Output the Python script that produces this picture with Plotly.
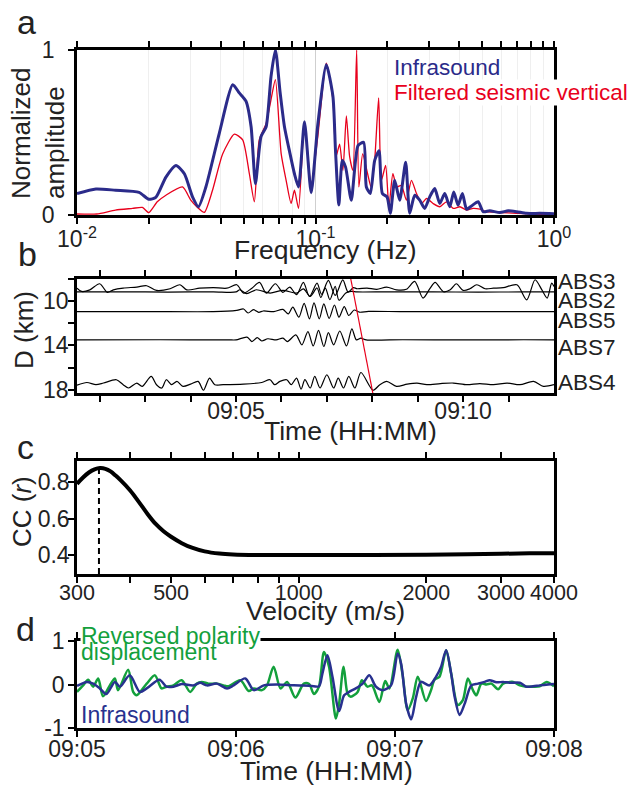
import math
import pandas as pd
import plotly.graph_objects as go

W, H = 627, 785
FONT = "Liberation Sans, Arial, Helvetica, sans-serif"

# ------------------------------------------------------------------ data
# Panel a : normalized spectra
a_freq_infra = [0.0100, 0.0120, 0.0145, 0.0182, 0.0200, 0.0214, 0.0236, 0.0260, 0.0282, 0.0305,
                0.0323, 0.0347, 0.0395, 0.0450, 0.0479, 0.0511, 0.0537, 0.0560, 0.0591, 0.0621,
                0.0651, 0.0679, 0.0711, 0.0741, 0.0777, 0.0816, 0.0849, 0.0899, 0.0959, 0.1023,
                0.1110, 0.1183, 0.1213, 0.1253, 0.1295, 0.1337, 0.1413, 0.1507, 0.1592, 0.1634,
                0.1698, 0.1770, 0.1846, 0.1907, 0.1995, 0.2060, 0.2148, 0.2254, 0.2388, 0.2483,
                0.2606, 0.2735, 0.2871, 0.3013, 0.3162, 0.3319, 0.3483, 0.3656, 0.3800, 0.3960,
                0.4130, 0.4300, 0.4510, 0.4810, 0.5050, 0.5380, 0.5930, 0.6430, 0.6970, 0.7670,
                0.8730, 1.0000]
a_amp_infra = [0.13, 0.158, 0.15, 0.137, 0.095, 0.107, 0.23, 0.30, 0.25, 0.11,
               0.05, 0.17, 0.495, 0.79, 0.74, 0.69, 0.535, 0.19, 0.475, 0.535,
               0.84, 1.0, 0.74, 0.535, 0.39, 0.25, 0.17, 0.565, 0.135, 0.55,
               0.91, 0.72, 0.39, 0.06, 0.33, 0.29, 0.09, 0.42, 0.44, 0.17,
               0.13, 0.33, 0.39, 0.13, 0.11, 0.01, 0.21, 0.09, 0.32, 0.01,
               0.12, 0.09, 0.04, 0.11, 0.16, 0.07, 0.13, 0.05, 0.14, 0.06,
               0.13, 0.035, 0.055, 0.08, 0.02, 0.025, 0.015, 0.025, 0.02, 0.01,
               0.01, 0.008]
a_freq_seis = [0.0100, 0.0121, 0.0145, 0.0171, 0.0188, 0.0200, 0.0217, 0.0236, 0.0277, 0.0300,
               0.0320, 0.0342, 0.0370, 0.0408, 0.0457, 0.0495, 0.0528, 0.0554, 0.0581, 0.0621,
               0.0651, 0.0679, 0.0718, 0.0753, 0.0790, 0.0816, 0.0849, 0.0899, 0.0959, 0.1023,
               0.1110, 0.1183, 0.1220, 0.1262, 0.1303, 0.1347, 0.1390, 0.1435, 0.1488, 0.1520,
               0.1577, 0.1654, 0.1708, 0.1770, 0.1840, 0.1889, 0.1968, 0.2031, 0.2111, 0.2193,
               0.2290, 0.2405, 0.2525, 0.2651, 0.2783, 0.2922, 0.3110, 0.3320, 0.3540, 0.3780,
               0.4030, 0.4300, 0.4580, 0.4890, 0.5210, 0.5930, 0.6970, 0.8100, 1.0000]
a_amp_seis = [0.006, 0.006, 0.03, 0.04, 0.046, 0.014, 0.08, 0.12, 0.17, 0.09,
              0.046, 0.016, 0.15, 0.37, 0.49, 0.455, 0.25, 0.08, 0.455, 0.555,
              0.70, 0.82, 0.37, 0.21, 0.07, 0.15, 0.04, 0.565, 0.18, 0.48,
              0.92, 0.70, 0.355, 0.43, 0.27, 0.60, 0.355, 0.27, 1.0, 0.17,
              0.37, 0.25, 0.17, 0.33, 0.71, 0.21, 0.30, 0.05, 0.25, 0.17,
              0.18, 0.09, 0.21, 0.13, 0.07, 0.10, 0.07, 0.05, 0.08, 0.04,
              0.05, 0.03, 0.04, 0.035, 0.02, 0.015, 0.01, 0.006, 0.004]
a_major_ticks = [0.01, 0.1, 1]
a_major_text = ["10<sup>-2</sup>", "10<sup>-1</sup>", "10<sup>0</sup>"]
a_minor_ticks = [0.02, 0.03, 0.04, 0.05, 0.06, 0.07, 0.08, 0.09,
                 0.2, 0.3, 0.4, 0.5, 0.6, 0.7, 0.8, 0.9]

# Panel b : seismograms (seconds after 09:05:00, amplitude in km)
b_stations = ["ABS3", "ABS2", "ABS5", "ABS7", "ABS4"]
b_station_D = [8.88, 9.17, 10.95, 13.5, 17.55]
b_t = {
    "ABS3": [-210, -204, -193, -180, -170, -162, -149, -131, -118, -105, -87, -74, -65, -48, -30,
             -12, 1, 10, 21, 31, 40, 52, 62, 71, 80, 89, 97, 107, 113, 122, 131, 141, 148, 155,
             160, 173, 186, 199, 212, 225, 236, 247, 256, 263, 274, 283, 291, 300, 309, 318, 329,
             340, 353, 371, 384, 395, 404, 411, 417, 420],
    "ABS2": [-210, -150, -90, -30, 0, 5, 14, 27, 45, 62, 80, 89, 98, 107, 112, 118, 124, 131, 136,
             145, 152, 160, 200, 260, 320, 380, 420],
    "ABS5": [-210, -120, -30, 1, 10, 16, 23, 30, 36, 50, 62, 69, 75, 83, 90, 97, 103, 110, 116,
             123, 130, 136, 143, 149, 156, 163, 175, 220, 300, 380, 420],
    "ABS7": [-210, -100, -10, 0, 14.5, 21, 28, 34, 42, 53, 62, 68, 79, 87, 95, 102, 109, 116, 122,
             129, 137, 146, 153, 159, 165, 172, 220, 300, 380, 420],
    "ABS4": [-210, -197, -185, -175, -158, -149, -142, -131, -124, -112, -105, -98, -92, -85, -78,
             -70, -60, -50, -43, -35, -28, -17, 10, 34, 45, 51, 58, 67, 73, 80, 86, 91, 98, 104,
             111, 120, 129, 135, 142, 149, 157, 165, 181, 190, 199, 212, 226, 239, 252, 270, 287,
             305, 322, 340, 358, 375, 393, 406, 420],
}
b_amp = {
    "ABS3": [0.06, -0.24, -0.1, 0.45, -0.33, -0.1, 0.06, 0.15, 0.27, -0.15, 0.0, 0.36, -0.1, 0.05,
             0.1, 0.05, 0.36, -0.4, 0.05, 0.57, -0.4, 0.45, -0.33, 0.15, -0.54, 0.57, -0.7, 0.5,
             -0.5, 0.75, -0.6, 0.8, -0.3, 0.1, 0.0, 0.06, -0.05, 0.15, -0.1, -0.05, 0.66, -0.84,
             0.0, 0.57, -0.27, -0.1, 0.45, -0.15, 0.0, 0.36, 0.0, 0.05, 0.1, 0.36, -1.0, 0.81,
             -0.1, -0.84, 0.5, 0.2],
    "ABS2": [0.0, 0.01, -0.01, 0.01, 0.0, 0.2, -0.15, 0.2, -0.1, 0.15, -0.1, 0.27, -0.4, 0.36,
             -0.5, 0.35, -0.7, 0.5, -0.75, -0.1, 0.05, 0.0, 0.01, 0.0, -0.01, 0.0, 0.0],
    "ABS5": [0.0, 0.01, 0.0, 0.12, 0.24, -0.12, 0.18, -0.06, 0.06, 0.0, 0.2, -0.2, 0.4, -0.5, 0.75,
             -0.65, 0.8, -0.65, 0.7, -0.6, 0.6, -0.5, 0.45, -0.35, 0.15, -0.05, 0.02, 0.0, 0.01,
             0.0, 0.0],
    "ABS7": [0.0, 0.01, 0.0, 0.0, 0.25, -0.15, 0.2, -0.1, 0.1, 0.0, 0.15, -0.15, 0.45, -0.45, 0.75,
             -0.55, 0.85, -0.6, 0.65, -0.45, 0.8, -0.55, 1.0, 0.0, 0.15, 0.0, 0.01, 0.0, 0.01, 0.0],
    "ABS4": [-0.05, 0.2, 0.0, 0.15, 0.45, 0.0, -0.3, 0.15, -0.15, 0.75, 0.0, -0.3, 0.45, 0.0, 0.3,
             -0.15, 0.05, 0.3, -0.5, 0.6, 0.0, 0.0, 0.05, 0.2, 0.45, 0.0, 0.3, 0.45, 0.0, 0.6,
             -0.4, 0.45, -0.3, 0.75, -0.3, 0.9, -0.3, 0.6, -0.3, 0.75, -0.3, 1.1, -0.5, 0.0, 0.3,
             -0.15, 0.05, 0.15, 0.0, 0.1, 0.15, 0.0, 0.1, 0.0, 0.15, 0.0, 0.3, -0.15, 0.0],
}
b_moveout_t = [151.6, 180.7]
b_moveout_D = [8.0, 18.3]
b_tick_s = [-180, -120, -60, 0, 60, 120, 180, 240, 300, 360]
b_tick_text = ["", "", "", "09:05", "", "", "", "", "09:10", ""]
b_ytick_vals = [8, 10, 12, 14, 16, 18]
b_ytick_text = ["", "10", "", "14", "", "18"]

# Panel c : correlation coefficient vs velocity
c_velocity = [300, 310, 320, 330, 340, 350, 360, 370, 380, 400, 420, 440, 460, 480, 500, 530,
              560, 600, 650, 700, 800, 1000, 1500, 2000, 2500, 3000, 3500, 4000]
c_cc = [0.79, 0.825, 0.852, 0.869, 0.876, 0.872, 0.858, 0.835, 0.81, 0.755, 0.69, 0.625, 0.57,
        0.53, 0.50, 0.465, 0.44, 0.42, 0.408, 0.403, 0.40, 0.40, 0.40, 0.401, 0.404, 0.407,
        0.409, 0.41]
c_best_velocity = 338
c_best_cc = 0.876
c_major_ticks = [300, 500, 1000, 2000, 3000, 4000]
c_minor_ticks = [400, 600, 700, 800, 900]

# Panel d : waveform comparison (seconds after 09:05:00)
d_t_disp = [0, 2.3, 4.2, 6.1, 8.0, 9.8, 12.4, 14.3, 15.5, 19.3, 21.2, 22.5, 26.3, 29.4, 31.9, 33.8,
            36.4, 39.5, 42.7, 45.2, 47.1, 49.6, 52.8, 55.3, 57.2, 61.6, 64.8, 66.7, 69.8, 71.7,
            74.2, 76.8, 79.3, 82.4, 85.6, 87.6, 89.4, 91.3, 93.2, 95.1, 97.7, 98.9, 100.6, 102.1,
            103.3, 105.9, 107.5, 109.6, 111.3, 114.1, 116.3, 117.9, 121.0, 122.9, 124.8, 126.7,
            128.6, 131.7, 133.6, 134.9, 136.8, 139.3, 141.2, 143.7, 145.6, 147.5, 149.4, 150.7,
            152.6, 154.5, 156.4, 158.9, 160.8, 164.6, 167.1, 169.6, 172.1, 174.6, 177.2, 180]
d_disp = [-0.17, -0.02, 0.11, -0.05, 0.14, -0.27, -0.02, 0.14, -0.13, 0.34, -0.17, -0.25, 0.02,
          0.21, -0.09, -0.05, -0.02, 0.10, -0.17, 0.02, 0.06, 0.02, 0.02, -0.02, -0.04, 0.10,
          -0.15, -0.09, -0.13, -0.02, 0.41, -0.09, 0.06, -0.30, 0.02, 0.01, -0.22, -0.05, 0.75,
          0.41, -0.78, -0.44, 0.41, -0.21, -0.28, -0.17, 0.10, -0.05, -0.02, -0.40, 0.08, -0.09,
          0.80, 0.21, -0.59, -0.32, 0.18, -0.38, -0.13, 0.11, 0.18, 0.79, 0.25, -0.47, -0.36,
          0.14, -0.13, -0.25, 0.02, 0.0, 0.02, -0.11, 0.02, 0.06, -0.02, -0.05, -0.05, -0.04,
          0.06, -0.04]
d_t_infra = [0, 3.8, 6.1, 8.6, 11.1, 14.3, 16.2, 19.9, 23.7, 26.3, 31.1, 33.8, 36.4, 39.5, 43.9,
             46.5, 49.0, 52.8, 56.6, 59.1, 63.5, 66.7, 70.5, 75.5, 81.8, 88.1, 91.3, 92.6, 94.5,
             96.4, 98.9, 100.8, 102.7, 105.2, 107.8, 110.3, 112.8, 115.3, 118.5, 121.0, 122.3,
             124.2, 126.1, 128.0, 129.8, 133.0, 135.5, 137.4, 139.3, 141.2, 142.5, 144.4, 146.3,
             148.8, 151.3, 153.8, 155.7, 158.3, 160.8, 163.3, 167.1, 169.6, 172.1, 174.6, 177.8,
             180]
d_infra = [-0.03, 0.06, 0.02, -0.09, -0.22, 0.06, -0.05, 0.21, -0.17, -0.09, 0.11, -0.05, -0.05,
           0.01, -0.02, 0.04, -0.02, 0.02, -0.09, -0.02, 0.14, -0.13, -0.02, 0.0, -0.02, -0.03,
           -0.04, 0.25, 0.67, 0.18, -0.61, -0.25, -0.17, -0.09, 0.02, 0.21, -0.05, -0.13, -0.02,
           0.71, 0.48, -0.44, -0.80, -0.28, 0.06, -0.02, 0.18, 0.41, 0.79, 0.25, -0.28, -0.70,
           -0.44, -0.02, 0.02, 0.06, 0.10, 0.05, 0.06, 0.04, 0.04, -0.05, -0.04, -0.02, 0.0, 0.01]
d_tick_s = [0, 60, 120, 180]
d_tick_text = ["09:05", "09:06", "09:07", "09:08"]

# ------------------------------------------------------------------ helpers
BASE = pd.Timestamp("2016-01-01 09:05:00")


def to_time(secs):
    return [BASE + pd.Timedelta(seconds=s) for s in secs]


def px_x(x):
    return x / W


def px_y(y):
    return 1 - y / H


BLUE = "#2b2b8a"
RED = "#e8001c"
GREEN = "#13a03c"
DBLUE = "#28318f"

fig = go.Figure()

# Panel a
fig.add_trace(go.Scatter(x=a_freq_seis, y=a_amp_seis, mode="lines", xaxis="x", yaxis="y",
                         line=dict(color=RED, width=1.3, shape="spline", smoothing=0.6),
                         showlegend=False))
fig.add_trace(go.Scatter(x=a_freq_infra, y=a_amp_infra, mode="lines", xaxis="x", yaxis="y",
                         line=dict(color=BLUE, width=3, shape="spline", smoothing=0.6),
                         showlegend=False))

# Panel b
for name, D0 in zip(b_stations, b_station_D):
    fig.add_trace(go.Scatter(x=to_time(b_t[name]), y=[D0 - a for a in b_amp[name]],
                             mode="lines", xaxis="x2", yaxis="y2",
                             line=dict(color="black", width=1.2, shape="spline", smoothing=0.8),
                             showlegend=False))
fig.add_trace(go.Scatter(x=to_time(b_moveout_t), y=b_moveout_D, mode="lines", xaxis="x2",
                         yaxis="y2", line=dict(color=RED, width=1.2), showlegend=False))

# Panel c
fig.add_trace(go.Scatter(x=c_velocity, y=c_cc, mode="lines", xaxis="x3", yaxis="y3",
                         line=dict(color="black", width=4, shape="spline", smoothing=1.0),
                         showlegend=False))
fig.add_trace(go.Scatter(x=[c_best_velocity, c_best_velocity], y=[0.296, c_best_cc],
                         mode="lines", xaxis="x3", yaxis="y3",
                         line=dict(color="black", width=2, dash="6px,4px"), showlegend=False))

# Panel d
fig.add_trace(go.Scatter(x=to_time(d_t_disp), y=d_disp, mode="lines", xaxis="x4", yaxis="y4",
                         line=dict(color=GREEN, width=2.5, shape="spline", smoothing=0.8),
                         showlegend=False))
fig.add_trace(go.Scatter(x=to_time(d_t_infra), y=d_infra, mode="lines", xaxis="x4", yaxis="y4",
                         line=dict(color=DBLUE, width=2.5, shape="spline", smoothing=0.8),
                         showlegend=False))

XDOM = [px_x(77), px_x(554)]
common = dict(showline=True, linecolor="black", linewidth=2.5, ticks="outside",
              tickcolor="black", tickwidth=1.5, ticklen=6, zeroline=False, showgrid=False,
              automargin=False, tickangle=0,
              tickfont=dict(family=FONT, size=23, color="#222"))

fig.update_layout(
    width=W, height=H, margin=dict(l=0, r=0, t=0, b=0, pad=0, autoexpand=False),
    paper_bgcolor="white", plot_bgcolor="white", showlegend=False,
    font=dict(family=FONT, color="#222"),
    xaxis=dict(common, type="log", domain=XDOM, anchor="y", range=[-2, 0], mirror="ticks",
               tickmode="array", tickvals=a_major_ticks, ticktext=a_major_text,
               showgrid=True, gridcolor="#cfcfcf", gridwidth=1, ticklabelstandoff=-4,
               minor=dict(tickvals=a_minor_ticks, ticks="outside", ticklen=6, tickwidth=1.5,
                          tickcolor="black", showgrid=True, gridcolor="#efefef", gridwidth=1)),
    yaxis=dict(common, domain=[px_y(215), px_y(50)], anchor="x", range=[0, 1], mirror=True,
               tickvals=[0, 1], ticktext=["0", "1"], ticklabelstandoff=9),
    xaxis2=dict(common, type="date", domain=XDOM, anchor="y2",
                range=[BASE + pd.Timedelta(seconds=-210), BASE + pd.Timedelta(seconds=420)],
                mirror="ticks", tickmode="array", tickvals=to_time(b_tick_s),
                ticktext=b_tick_text, ticklabelstandoff=-10),
    yaxis2=dict(common, domain=[px_y(393), px_y(279)], anchor="x2", range=[18.3, 8.0],
                mirror=True, tickvals=b_ytick_vals, ticktext=b_ytick_text, ticklabelstandoff=-5),
    xaxis3=dict(common, type="log", domain=XDOM, anchor="y3",
                range=[math.log10(300), math.log10(4000)], mirror="ticks", tickmode="array",
                tickvals=c_major_ticks, ticktext=[str(v) for v in c_major_ticks],
                ticklabelstandoff=-9, tickfont=dict(family=FONT, size=21.5, color="#222"),
                minor=dict(tickvals=c_minor_ticks, ticks="outside", ticklen=6, tickwidth=1.5,
                           tickcolor="black")),
    yaxis3=dict(common, domain=[px_y(574), px_y(461)], anchor="x3", range=[0.296, 0.915],
                mirror=True, tickvals=[0.4, 0.6, 0.8], ticktext=["0.4", "0.6", "0.8"],
                ticklabelstandoff=-6),
    xaxis4=dict(common, type="date", domain=XDOM, anchor="y4",
                range=[BASE, BASE + pd.Timedelta(seconds=180)], mirror="ticks",
                tickmode="array", tickvals=to_time(d_tick_s), ticktext=d_tick_text,
                ticklabelstandoff=-7),
    yaxis4=dict(common, domain=[px_y(728), px_y(641)], anchor="x4", range=[-1, 1],
                mirror=True, tickvals=[-1, 0, 1], ticktext=["-1", "0", "1"],
                ticklabelstandoff=-1),
)


def note(text, x, y, size, color="#222", xanchor="center", angle=0, bg=None):
    fig.add_annotation(text=text, x=px_x(x), y=px_y(y), xref="paper", yref="paper",
                       xanchor=xanchor, yanchor="middle", showarrow=False, textangle=angle,
                       font=dict(family=FONT, size=size, color=color), align="left",
                       bgcolor=bg, borderpad=0)


# panel letters
note("a", 26, 22, 34)
note("b", 27, 254, 34)
note("c", 25, 447, 34)
note("d", 25, 629, 34)

# axis titles
note("Frequency (Hz)", 325, 250, 26.5)
note("Normalized<br>amplitude", 38, 133, 26, angle=-90)
note("D (km)", 24, 330, 26, angle=-90)
note("Time (HH:MM)", 350, 431, 26.5)
note("CC (<i>r</i>)", 22, 512, 26, angle=-90)
note("Velocity (m/s)", 325, 611, 26.5)
note("Time (HH:MM)", 326, 771, 26.5)

# legends
note("Infrasound", 393, 68, 22.5, color=BLUE, xanchor="left")
note("Filtered seismic vertical", 393, 93, 22.5, color=RED, xanchor="left", bg="white")
note("Reversed polarity", 80, 636, 23, color=GREEN, xanchor="left", bg="white")
note("displacement", 80, 652, 23, color=GREEN, xanchor="left")
note("Infrasound", 80, 715, 23, color=DBLUE, xanchor="left")

# station labels
for name, ylab in zip(b_stations, [282, 300, 320, 347, 382]):
    note(name, 557, ylab, 22.5, xanchor="left")

fig.write_html("out.html", config={"displayModeBar": False},
               post_script="document.body.style.margin='0px';document.body.style.overflow='hidden';")
